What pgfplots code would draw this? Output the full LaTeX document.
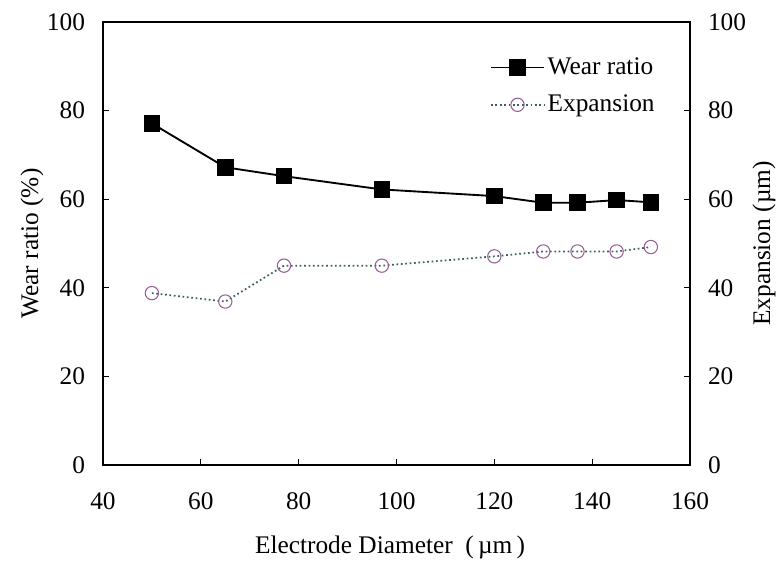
\documentclass[border=0pt]{standalone}
\usepackage{pgfplots}
\pgfplotsset{compat=1.18}
\usepackage{fontspec}
\setmainfont{Liberation Serif}
\definecolor{circ}{RGB}{150,95,150}
\definecolor{dotl}{RGB}{60,95,95}
\pgfplotstableread{
x y
50 77.1
65 67.2
77 65.2
97 62.2
120 60.7
130 59.2
137 59.2
145 59.8
152 59.3
}\wear
\pgfplotstableread{
x y
50 38.8
65 36.9
77 45.0
97 45.0
120 47.1
130 48.2
137 48.2
145 48.2
152 49.2
}\expan
\begin{document}
\fontsize{19}{22}\selectfont
\begin{tikzpicture}
\pgfplotsset{common/.style={
  scale only axis, width=440.25pt, height=332.25pt,
  xmin=40, xmax=160, ymin=0, ymax=100,
  tick align=inside, major tick length=4.5pt,
  /pgf/number format/assume math mode=true,
  tick label style={font=\fontsize{19}{22}\selectfont},
  label style={font=\fontsize{19}{22}\selectfont},
  axis line style={line width=1.2pt},
  every tick/.style={black, line width=0.9pt},
}}
\begin{axis}[common, name=ax,
  xtick={40,60,...,160}, ytick={0,20,...,100},
  xtick pos=bottom, ytick pos=left,
  xticklabel style={yshift=-14pt},
  yticklabel style={xshift=-7pt},
  xlabel={Electrode Diameter \ (\,µm\,)},
  xlabel style={at={(axis description cs:0.489,-0.187)}, anchor=center},
  ylabel={Wear ratio (\%)},
  ylabel style={at={(axis description cs:-0.121,0.5)}, anchor=center},
]
\addplot[black, line width=1.4pt, mark=square*, mark size=5.5pt] table[x=x,y=y] {\wear};
\end{axis}
\begin{axis}[common,
  axis x line=none, axis y line*=right,
  ytick={0,20,...,100},
  yticklabel style={xshift=7pt},
  ylabel={Expansion (µm)},
  ylabel style={at={(axis description cs:1.126,0.5)}, anchor=center},
  legend style={draw=none, fill=none, at={(axis description cs:0.947,0.93)}, anchor=north east,
    row sep=8.5pt, font=\fontsize{19}{22}\selectfont, inner sep=1pt},
  legend cell align=left,
  legend image code/.code={\draw[mark repeat=2, mark phase=2, #1] plot coordinates {(0cm,0cm) (0.7cm,0cm) (1.4cm,0cm)};},
]
\addlegendimage{black, line width=1.4pt, mark=square*, mark size=5.5pt}
\addlegendentry{Wear ratio}
\addplot[dotl, line width=1.3pt, dotted, mark=o, mark size=5pt,
  mark options={solid, draw=circ, line width=0.8pt}] table[x=x,y=y] {\expan};
\addlegendentry{Expansion}
\end{axis}
\pgfresetboundingbox
\path ([shift={(-77.25pt,-72.75pt)}]ax.south west) rectangle ([shift={(67.5pt,16.5pt)}]ax.north east);
\end{tikzpicture}
\end{document}
